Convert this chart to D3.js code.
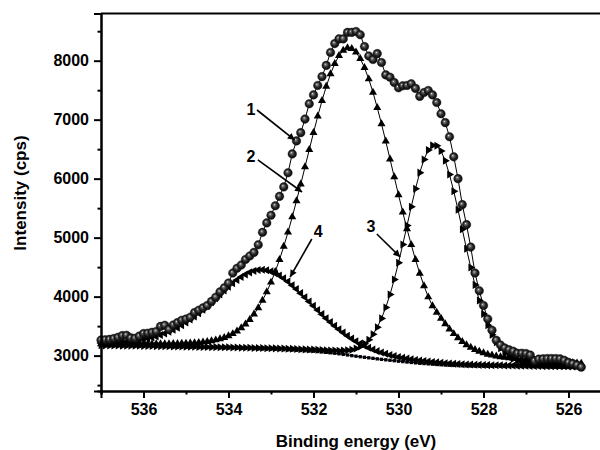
<!DOCTYPE html>
<html>
<head>
<meta charset="utf-8">
<script src="https://cdn.jsdelivr.net/npm/d3@7"></script>
<style>
  body { margin: 0; background: #fff; }
  svg { display: block; font-family: "Liberation Sans", Arial, sans-serif; font-weight: bold; }
</style>
</head>
<body>
<div id="chart"></div>
<script>
// binding energy grid (eV), 0.1 eV steps
var energy = [
  537.0,536.9,536.8,536.7,536.6,536.5,536.4,536.3,536.2,536.1,
  536.0,535.9,535.8,535.7,535.6,535.5,535.4,535.3,535.2,535.1,
  535.0,534.9,534.8,534.7,534.6,534.5,534.4,534.3,534.2,534.1,
  534.0,533.9,533.8,533.7,533.6,533.5,533.4,533.3,533.2,533.1,
  533.0,532.9,532.8,532.7,532.6,532.5,532.4,532.3,532.2,532.1,
  532.0,531.9,531.8,531.7,531.6,531.5,531.4,531.3,531.2,531.1,
  531.0,530.9,530.8,530.7,530.6,530.5,530.4,530.3,530.2,530.1,
  530.0,529.9,529.8,529.7,529.6,529.5,529.4,529.3,529.2,529.1,
  529.0,528.9,528.8,528.7,528.6,528.5,528.4,528.3,528.2,528.1,
  528.0,527.9,527.8,527.7,527.6,527.5,527.4,527.3,527.2,527.1,
  527.0,526.9,526.8,526.7,526.6,526.5,526.4,526.3,526.2,526.1,
  526.0,525.9,525.8,525.7
];

// measured spectrum (curve 1)
var measured = [
  3265,3270,3275,3290,3310,3340,3345,3300,3295,3330,
  3375,3380,3395,3410,3495,3515,3445,3520,3560,3600,
  3620,3650,3730,3770,3810,3850,3920,3990,4080,4150,
  4230,4400,4480,4535,4630,4690,4750,4880,5090,5250,
  5380,5540,5700,5860,6100,6420,6640,6780,7010,7270,
  7420,7580,7730,7920,8140,8290,8370,8370,8480,8480,
  8495,8440,8240,8080,8020,8120,7970,7760,7720,7630,
  7540,7575,7580,7610,7530,7395,7460,7495,7420,7290,
  7100,6950,6710,6370,6000,5560,5220,4840,4400,4100,
  3850,3620,3430,3260,3180,3130,3100,3075,3040,3040,
  3035,3010,2910,2940,2945,2950,2950,2950,2945,2920,
  2885,2865,2840,2805
];

// fitted component 2 (~531.2 eV)
var peak2 = [
  3196,3196,3196,3196,3196,3196,3196,3196,3197,3197,
  3198,3198,3198,3198,3198,3199,3200,3202,3203,3205,
  3208,3211,3215,3221,3228,3238,3249,3264,3282,3306,
  3335,3370,3415,3468,3533,3610,3703,3810,3936,4079,
  4243,4425,4628,4851,5093,5351,5624,5907,6198,6490,
  6780,7059,7322,7563,7774,7950,8085,8174,8215,8204,
  8143,8035,7882,7689,7461,7204,6927,6634,6332,6028,
  5725,5431,5147,4879,4627,4394,4183,3993,3842,3732,
  3629,3536,3447,3370,3300,3237,3183,3139,3101,3070,
  3044,3022,3006,2992,2979,2969,2960,2954,2946,2940,
  2934,2927,2921,2915,2909,2905,2899,2895,2890,2887,
  2882,2878,2873,2868
];

// fitted component 3 (~529.1 eV)
var peak3 = [
  3174,3173,3172,3171,3170,3169,3168,3167,3167,3166,
  3165,3164,3162,3161,3159,3159,3157,3156,3154,3153,
  3152,3151,3149,3148,3147,3146,3144,3144,3142,3141,
  3140,3138,3136,3135,3133,3132,3130,3129,3128,3126,
  3125,3123,3121,3119,3117,3115,3112,3109,3106,3104,
  3102,3098,3095,3091,3087,3085,3084,3085,3090,3101,
  3121,3154,3203,3270,3361,3480,3631,3816,4036,4290,
  4575,4883,5204,5525,5830,6102,6326,6484,6564,6559,
  6469,6302,6069,5787,5472,5141,4811,4494,4199,3936,
  3707,3513,3353,3225,3124,3047,2988,2946,2915,2892,
  2876,2864,2856,2849,2844,2841,2837,2834,2831,2829,
  2827,2825,2822,2819
];

// fitted component 4 (~533.2 eV)
var peak4 = [
  3212,3214,3217,3220,3224,3229,3236,3243,3252,3262,
  3275,3290,3306,3326,3348,3375,3404,3438,3474,3516,
  3561,3611,3663,3720,3779,3842,3906,3972,4038,4104,
  4167,4227,4283,4333,4376,4411,4436,4450,4454,4446,
  4428,4398,4358,4310,4255,4194,4128,4059,3988,3916,
  3845,3773,3703,3635,3569,3507,3447,3390,3337,3288,
  3243,3203,3166,3133,3103,3076,3052,3030,3011,2993,
  2977,2962,2949,2937,2926,2915,2907,2899,2892,2885,
  2878,2872,2866,2862,2858,2854,2851,2848,2845,2843,
  2841,2839,2838,2837,2835,2834,2832,2832,2830,2829,
  2827,2826,2825,2824,2822,2822,2821,2819,2818,2818,
  2816,2815,2813,2811
];

// Shirley-type background
var background = [
  3170,3169,3168,3167,3166,3165,3164,3163,3162,3161,
  3160,3159,3157,3156,3154,3153,3151,3150,3148,3147,
  3145,3144,3142,3141,3139,3138,3136,3135,3133,3132,
  3130,3128,3126,3124,3122,3120,3118,3116,3114,3112,
  3110,3107,3104,3101,3098,3095,3091,3087,3083,3079,
  3075,3069,3063,3056,3048,3040,3031,3021,3011,3000,
  2990,2981,2972,2963,2954,2945,2937,2929,2921,2913,
  2905,2898,2891,2884,2877,2870,2865,2860,2855,2850,
  2845,2841,2837,2834,2831,2828,2826,2824,2822,2821,
  2820,2819,2818,2818,2817,2816,2815,2815,2814,2813,
  2812,2811,2811,2810,2809,2809,2808,2807,2806,2806,
  2805,2804,2802,2800
];

var xTicks = [536, 534, 532, 530, 528, 526];
var xMinor = [537, 535, 533, 531, 529, 527, 525];
var yTicks = [3000, 4000, 5000, 6000, 7000, 8000];
var yMinor = [2500, 3500, 4500, 5500, 6500, 7500, 8500];

// curve labels and their arrows, in data units (eV, cps)
var labelText = ["1", "2", "3", "4"];
var labelAt = [[533.47, 7181], [533.47, 6384], [530.65, 5198], [531.89, 5113]];
var arrowFrom = [[533.33, 7164], [533.31, 6317], [530.51, 5062], [532.04, 4977]];
var arrowTo = [[532.44, 6655], [532.27, 5774], [529.96, 4672], [532.55, 4333]];

var W = 600, H = 450;
var plot = { left: 101, right: 611, top: 13.5, bottom: 391 };

var x = d3.scaleLinear().domain([537, 525]).range([plot.left, plot.right]);
var y = d3.scaleLinear().domain([2400, 8800]).range([plot.bottom, plot.top]);

var svg = d3.select("#chart").append("svg")
    .attr("width", W)
    .attr("height", H);

var defs = svg.append("defs");
var grad = defs.append("radialGradient")
    .attr("id", "ball")
    .attr("cx", "50%").attr("cy", "50%").attr("r", "55%")
    .attr("fx", "38%").attr("fy", "35%");
grad.append("stop").attr("offset", "0%").attr("stop-color", "#f0f0f0");
grad.append("stop").attr("offset", "18%").attr("stop-color", "#7a7a7a");
grad.append("stop").attr("offset", "55%").attr("stop-color", "#262626");
grad.append("stop").attr("offset", "100%").attr("stop-color", "#000");

defs.append("marker")
    .attr("id", "arrowhead")
    .attr("viewBox", "0 0 10 10")
    .attr("refX", 10).attr("refY", 5)
    .attr("markerUnits", "userSpaceOnUse")
    .attr("markerWidth", 10).attr("markerHeight", 7)
    .attr("orient", "auto")
  .append("path")
    .attr("d", "M0,0L10,5L0,10Z")
    .attr("fill", "#000");

function series(values) {
  return energy.map(function(e, i) { return { e: e, v: values[i] }; });
}

var line = d3.line()
    .x(function(d) { return x(d.e); })
    .y(function(d) { return y(d.v); });

function drawSeries(values, lineColor, drawMarker) {
  var pts = series(values);
  var g = svg.append("g");
  g.append("path")
      .datum(pts)
      .attr("d", line)
      .attr("fill", "none")
      .attr("stroke", lineColor)
      .attr("stroke-width", 1);
  drawMarker(g.selectAll(null).data(pts).enter());
}

function symbolMarks(type, size, angle) {
  var sym = d3.symbol().type(type).size(size);
  return function(sel) {
    sel.append("path")
        .attr("d", sym)
        .attr("fill", "#000")
        .attr("transform", function(d) {
          return "translate(" + x(d.e) + "," + y(d.v) + ") rotate(" + angle + ")";
        });
  };
}

drawSeries(background, "#000040", symbolMarks(d3.symbolSquare, 11, 0));
drawSeries(peak4, "#000", symbolMarks(d3.symbolTriangle, 28, -90));
drawSeries(peak3, "#000", symbolMarks(d3.symbolTriangle, 28, 90));
drawSeries(peak2, "#000", symbolMarks(d3.symbolTriangle, 28, 0));
drawSeries(measured, "#000", function(sel) {
  sel.append("circle")
      .attr("cx", function(d) { return x(d.e); })
      .attr("cy", function(d) { return y(d.v); })
      .attr("r", 4.3)
      .attr("fill", "url(#ball)")
      .attr("stroke", "#111")
      .attr("stroke-width", 0.4);
});

// frame: top line, left and bottom axes
svg.append("line")
    .attr("x1", plot.left).attr("x2", plot.right)
    .attr("y1", plot.top).attr("y2", plot.top)
    .attr("stroke", "#000").attr("stroke-width", 2);

var xAxis = svg.append("g").attr("transform", "translate(0," + plot.bottom + ")");
xAxis.call(d3.axisBottom(x).tickValues(xMinor).tickSize(3.5).tickFormat(""));
xAxis.call(function(g) {
  g.append("g").call(d3.axisBottom(x).tickValues(xTicks).tickSize(7).tickPadding(6).tickFormat(d3.format("d")));
});
xAxis.selectAll(".domain").attr("stroke-width", 2);
xAxis.selectAll(".tick line").attr("stroke-width", 2);
xAxis.selectAll("text")
    .attr("font-size", 16)
    .attr("font-weight", "bold")
    .attr("font-family", "Liberation Sans, Arial, sans-serif")
    .attr("fill", "#000");

var yAxis = svg.append("g").attr("transform", "translate(" + plot.left + ",0)");
yAxis.call(d3.axisLeft(y).tickValues(yMinor).tickSize(3.5).tickFormat(""));
yAxis.call(function(g) {
  g.append("g").call(d3.axisLeft(y).tickValues(yTicks).tickSize(7).tickPadding(5).tickFormat(d3.format("d")));
});
yAxis.selectAll(".domain").attr("stroke-width", 2);
yAxis.selectAll(".tick line").attr("stroke-width", 2);
yAxis.selectAll("text")
    .attr("font-size", 16)
    .attr("font-weight", "bold")
    .attr("font-family", "Liberation Sans, Arial, sans-serif")
    .attr("fill", "#000");

// axis titles
svg.append("text")
    .attr("x", (plot.left + plot.right) / 2)
    .attr("y", 447)
    .attr("text-anchor", "middle")
    .attr("font-size", 17)
    .text("Binding energy (eV)");

svg.append("text")
    .attr("transform", "translate(26," + 193 + ") rotate(-90)")
    .attr("text-anchor", "middle")
    .attr("font-size", 17)
    .text("Intensity (cps)");

// curve labels with arrows
var notes = svg.append("g");
labelText.forEach(function(t, i) {
  notes.append("text")
      .attr("x", x(labelAt[i][0]))
      .attr("y", y(labelAt[i][1]))
      .attr("dy", "0.36em")
      .attr("text-anchor", "middle")
      .attr("font-size", 16)
      .text(t);
  notes.append("line")
      .attr("x1", x(arrowFrom[i][0])).attr("y1", y(arrowFrom[i][1]))
      .attr("x2", x(arrowTo[i][0])).attr("y2", y(arrowTo[i][1]))
      .attr("stroke", "#000")
      .attr("stroke-width", 1.6)
      .attr("marker-end", "url(#arrowhead)");
});
</script>
</body>
</html>
